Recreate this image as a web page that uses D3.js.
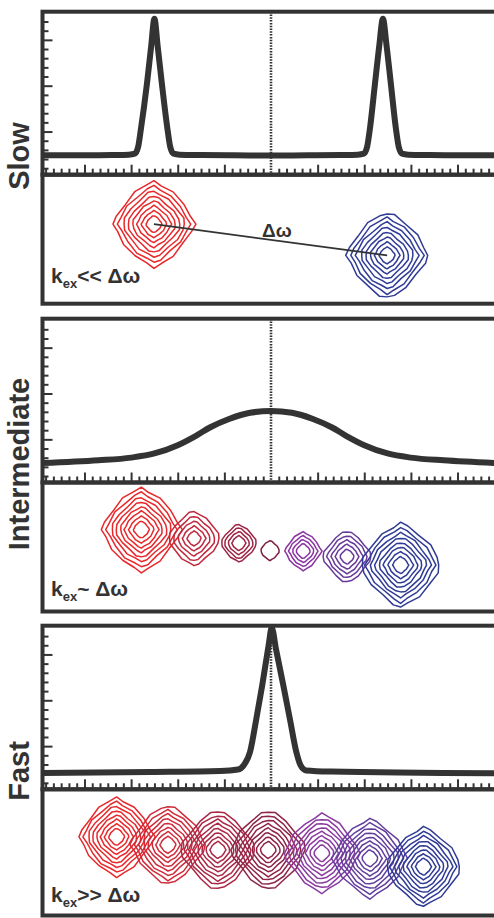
<!DOCTYPE html>
<html>
<head>
<meta charset="utf-8">
<title>Exchange regimes</title>
<script src="https://cdn.jsdelivr.net/npm/d3@7"></script>
<style>
  body { margin: 0; background: #fff; }
  svg { display: block; }
  text { font-family: "Liberation Sans", Arial, sans-serif; font-weight: bold; fill: #333; }
</style>
</head>
<body>
<div id="chart"></div>
<script>
// 1D spectra: [offset from centre (major-tick units), intensity (slow peak = 1)]
const slowSpectrum = [
  [-4.9, 0.01], [-4.0, 0.01], [-3.4, 0.012], [-3.05, 0.015], [-2.92, 0.022], [-2.85, 0.07],
  [-2.79, 0.2], [-2.66, 0.53], [-2.57, 0.8], [-2.50, 1.0], [-2.43, 0.8], [-2.34, 0.53],
  [-2.22, 0.2], [-2.16, 0.07], [-2.09, 0.022], [-1.96, 0.015], [-1.5, 0.012], [-0.8, 0.01],
  [0, 0.009], [0.8, 0.01], [1.5, 0.012], [1.86, 0.015], [1.99, 0.022], [2.06, 0.07],
  [2.12, 0.2], [2.23, 0.53], [2.32, 0.8], [2.40, 1.0], [2.48, 0.8], [2.57, 0.53],
  [2.68, 0.2], [2.74, 0.07], [2.81, 0.022], [2.94, 0.015], [3.4, 0.012], [4.0, 0.01], [4.9, 0.01]
];
const intSpectrum = [
  [-4.9, 0.01], [-3.7, 0.03], [-3.0, 0.05], [-2.5, 0.08], [-2.0, 0.14], [-1.6, 0.21],
  [-1.3, 0.27], [-0.9, 0.33], [-0.45, 0.375], [0, 0.388], [0.45, 0.375], [0.9, 0.33],
  [1.3, 0.27], [1.6, 0.21], [2.0, 0.14], [2.5, 0.08], [3.0, 0.05], [3.7, 0.03], [4.9, 0.01]
];
const fastSpectrum = [
  [-4.9, -0.012], [-2.59, -0.005], [-1.09, 0.002], [-0.71, 0.013], [-0.58, 0.046], [-0.45, 0.14],
  [-0.32, 0.37], [-0.19, 0.62], [-0.05, 0.915], [0.015, 1.04], [0.11, 0.88], [0.26, 0.63],
  [0.41, 0.37], [0.55, 0.13], [0.63, 0.046], [0.75, 0.006], [1.27, -0.002], [4.9, -0.015]
];

// 2D peaks: centre x (same units as spectra), centre y (units below the panel top), contour ring radii
const bigRings = [0.17, 0.27, 0.37, 0.46, 0.56, 0.65, 0.75, 0.85];
const slowPeaks = [
  {x: -2.51, y: 1.06, rings: [0.17, 0.27, 0.37, 0.47, 0.57, 0.67, 0.77, 0.87]},
  {x: 2.49, y: 1.73, rings: [0.17, 0.27, 0.37, 0.47, 0.57, 0.67, 0.77, 0.87]}
];
const intPeaks = [
  {x: -2.78, y: 1.01, rings: bigRings},
  {x: -1.65, y: 1.20, rings: [0.15, 0.25, 0.35, 0.45, 0.55]},
  {x: -0.69, y: 1.30, rings: [0.15, 0.23, 0.31, 0.38]},
  {x: -0.02, y: 1.46, rings: [0.2]},
  {x: 0.69, y: 1.47, rings: [0.15, 0.23, 0.31, 0.39]},
  {x: 1.63, y: 1.59, rings: [0.15, 0.25, 0.34, 0.43, 0.52]},
  {x: 2.78, y: 1.77, rings: bigRings}
];
const fastRings = [0.17, 0.26, 0.35, 0.44, 0.53, 0.62, 0.71, 0.80];
const fastPeaks = [
  {x: -3.31, y: 1.02, rings: fastRings},
  {x: -2.21, y: 1.19, rings: fastRings},
  {x: -1.14, y: 1.30, rings: fastRings},
  {x: -0.06, y: 1.30, rings: fastRings},
  {x: 1.09, y: 1.37, rings: fastRings},
  {x: 2.12, y: 1.48, rings: fastRings},
  {x: 3.27, y: 1.66, rings: fastRings}
];

const regimeNames = ["Slow", "Intermediate", "Fast"];
const regimeRelations = ["<<", "~", ">>"];

// colours of the contour sets, red (site A) to blue (site B)
const slowColors = ["#e8282b", "#2f3b95"];
const intColors = ["#e8282b", "#c0283c", "#9e2444", "#7d1f3e", "#8a34a0", "#673a9a", "#2f3b95"];
const fastColors = ["#e8282b", "#cf2b3a", "#aa2846", "#8e2548", "#8b3aa0", "#623d9c", "#2f3b95"];

const W = 494, H = 918, ink = "#333";
const svg = d3.select("#chart").append("svg").attr("width", W).attr("height", H);
const x = d3.scaleLinear().domain([-4.9, 4.9]).range([42.5, 499.5]);
const unit = x(1) - x(0);

const layout = [
  {top: 11.7, mid: 174.7, bottom: 303.7, nameY: 156, keyY: 282.7},
  {top: 318.7, mid: 482.5, bottom: 611.5, nameY: 464, keyY: 596},
  {top: 625.7, mid: 789.3, bottom: 915.5, nameY: 771, keyY: 901.7}
];
const regimes = [
  {spectrum: slowSpectrum, peaks: slowPeaks, colors: slowColors},
  {spectrum: intSpectrum, peaks: intPeaks, colors: intColors},
  {spectrum: fastSpectrum, peaks: fastPeaks, colors: fastColors}
];

// fixed wobble so the contour rings look hand-traced
const wobble = [1, .965, 1.025, .98, 1.01, .955, 1.02, 1, .97, 1.035, .99, .96, 1.02, .985, 1.03, .97, 1, 1.02, .96, 1.01];
function ringPath(cx, cy, rx, ry, k) {
  const n = wobble.length;
  const pts = d3.range(n).map(j => {
    const t = 2 * Math.PI * j / n, c = Math.cos(t), s = Math.sin(t);
    const w = wobble[(j + k * 7) % n];
    return [cx + w * rx * Math.sign(c) * Math.pow(Math.abs(c), 1.45),
            cy + w * ry * Math.sign(s) * Math.pow(Math.abs(s), 1.45)];
  });
  return d3.line().curve(d3.curveLinearClosed)(pts);
}

regimes.forEach((r, i) => drawRegime(r, layout[i], i));

function drawRegime(r, L, i) {
  const g = svg.append("g");
  const left = x.range()[0];

  // intensity scale and left-axis tick scale
  const y = d3.scaleLinear().domain([0, 1]).range([L.mid - 18, L.mid - 156]);
  const yt = d3.scaleLinear().domain([0, 1]).range([L.mid + 2.7, L.mid + 2.7 - 45.85]);
  const ytMax = yt.invert(L.top + 6);
  const yMinor = d3.range(1, Math.floor(ytMax * 5) + 1).filter(k => k % 5).map(k => k / 5);
  const yMajor = d3.range(1, Math.floor(ytMax) + 1);

  const xMinor = d3.range(-29, 30).filter(k => k % 6).map(k => k / 6);
  const xMajor = d3.range(-4, 5).filter(k => k !== 0);

  const axisStyle = a => {
    a.select(".domain").remove();
    a.attr("color", ink).selectAll("line").attr("stroke-width", 2);
  };
  g.append("g").attr("transform", `translate(${left},0)`)
    .call(d3.axisRight(yt).tickValues(yMinor).tickSize(6).tickFormat("")).call(axisStyle);
  g.append("g").attr("transform", `translate(${left},0)`)
    .call(d3.axisRight(yt).tickValues(yMajor).tickSize(10).tickFormat("")).call(axisStyle);
  g.append("g").attr("transform", `translate(0,${L.mid})`)
    .call(d3.axisTop(x).tickValues(xMinor).tickSize(6).tickFormat("")).call(axisStyle);
  g.append("g").attr("transform", `translate(0,${L.mid})`)
    .call(d3.axisTop(x).tickValues(xMajor).tickSize(10).tickFormat("")).call(axisStyle);

  // dotted centre line
  g.append("line")
    .attr("x1", x(0)).attr("x2", x(0)).attr("y1", L.top).attr("y2", L.mid)
    .attr("stroke", ink).attr("stroke-width", 2.6).attr("stroke-dasharray", "1.5 1.3");

  // spectrum
  g.append("path").datum(r.spectrum)
    .attr("fill", "none").attr("stroke", ink).attr("stroke-width", 6)
    .attr("stroke-linejoin", "round")
    .attr("d", d3.line().x(d => x(d[0])).y(d => y(d[1])).curve(d3.curveMonotoneX));

  // contour panel
  const yc = d3.scaleLinear().domain([0, 1]).range([L.mid, L.mid + unit]);
  const pg = g.append("g");
  r.peaks.forEach((p, k) => {
    pg.selectAll(null).data(p.rings).join("path")
      .attr("fill", "none").attr("stroke", r.colors[k]).attr("stroke-width", 1.5)
      .attr("stroke-linejoin", "round")
      .attr("d", (rad, j) => ringPath(x(p.x), yc(p.y), rad * unit, rad * unit * 1.06, k + j));
  });

  if (i === 0) {
    const a = r.peaks[0], b = r.peaks[1];
    g.append("line")
      .attr("x1", x(a.x)).attr("y1", yc(a.y)).attr("x2", x(b.x)).attr("y2", yc(b.y))
      .attr("stroke", ink).attr("stroke-width", 1.8);
    g.append("text").attr("x", 262).attr("y", 236.5).style("font-size", "19px").text("Δω");
  }

  // frames
  g.append("rect").attr("x", left).attr("y", L.top).attr("width", x.range()[1] - left).attr("height", L.mid - L.top)
    .attr("fill", "none").attr("stroke", ink).attr("stroke-width", 4);
  g.append("rect").attr("x", left).attr("y", L.mid).attr("width", x.range()[1] - left).attr("height", L.bottom - L.mid)
    .attr("fill", "none").attr("stroke", ink).attr("stroke-width", 4);

  // labels
  svg.append("text").attr("transform", `translate(28.5,${L.nameY}) rotate(-90)`)
    .attr("text-anchor", "middle").style("font-size", "29px").text(regimeNames[i]);
  const t = svg.append("text").attr("x", 51).attr("y", L.keyY).style("font-size", "21px");
  t.append("tspan").text("k");
  t.append("tspan").attr("dy", 5).style("font-size", "13px").text("ex");
  t.append("tspan").attr("dy", -5).text(regimeRelations[i] + " Δω");
}
</script>
</body>
</html>
